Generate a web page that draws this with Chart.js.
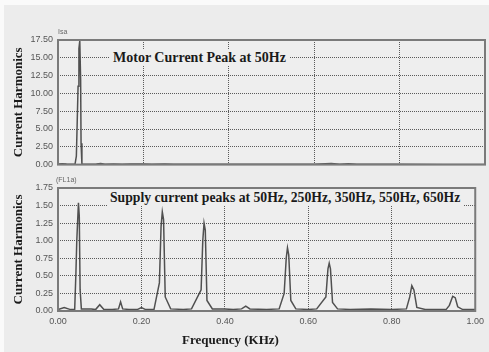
<!DOCTYPE html>
<html><head><meta charset="utf-8">
<script src="https://cdn.jsdelivr.net/npm/chart.js@4.4.0/dist/chart.umd.min.js"></script>
<style>
html,body{margin:0;padding:0;background:#fafafa;}
#wrap{position:relative;width:489px;height:352px;overflow:hidden;}
#panel{position:absolute;left:4px;top:5px;width:485px;height:347px;background:#ececec;}
canvas{position:absolute;left:0;}
.ann{position:absolute;font-family:"Liberation Serif",serif;font-weight:bold;font-size:14px;line-height:16px;color:#1a1a1a;background:#eeeeee;padding:0 3px;white-space:nowrap;}
.unit{position:absolute;font-family:"Liberation Sans",sans-serif;font-size:7px;color:#666;}
.xt{position:absolute;font-family:"Liberation Serif",serif;font-weight:bold;font-size:13px;color:#1a1a1a;white-space:nowrap;}
</style></head>
<body><div id="wrap"><div id="panel"></div>
<canvas id="c1" width="489" height="175" style="top:0"></canvas>
<canvas id="c2" width="489" height="182" style="top:170px"></canvas>
<div class="ann" style="left:110px;top:50px">Motor Current Peak at 50Hz</div>
<div class="ann" style="left:107px;top:190px;font-size:13.7px">Supply current peaks at 50Hz, 250Hz, 350Hz, 550Hz, 650Hz</div>
<div class="unit" style="left:58px;top:28px">Isa</div>
<div class="unit" style="left:56px;top:176px">(FL1a)</div>
<div class="xt" style="left:182px;top:332px">Frequency (KHz)</div>
</div>
<script>
// Frequency axis ticks (KHz)
const xTicks = [0.00, 0.20, 0.40, 0.60, 0.80, 1.00];
const yTicksTop = [0, 2.5, 5, 7.5, 10, 12.5, 15, 17.5];
const yTicksBottom = [0, 0.25, 0.5, 0.75, 1.0, 1.25, 1.5, 1.75];

// Motor current harmonics (Isa)
const motorFreq = [0.00, 0.01, 0.02, 0.03, 0.04, 0.043, 0.045, 0.047, 0.049, 0.051, 0.053, 0.054, 0.056, 0.07, 0.09, 0.10, 0.11, 0.13, 0.15, 0.17, 0.20, 0.22, 0.25, 0.27, 0.30, 0.35, 0.40, 0.45, 0.50, 0.55, 0.60, 0.64, 0.66, 0.68, 0.70, 0.80, 0.90, 1.00];
const motorAmp  = [0.10, 0.12, 0.08, 0.06, 0.10, 1.20, 6.00, 11.00, 16.30, 17.40, 12.00, 3.00, 0.10, 0.05, 0.08, 0.15, 0.05, 0.10, 0.05, 0.10, 0.08, 0.06, 0.10, 0.05, 0.06, 0.05, 0.06, 0.04, 0.05, 0.04, 0.05, 0.15, 0.05, 0.12, 0.04, 0.04, 0.03, 0.03];

// Supply current harmonics (FL1a)
const supplyFreq = [0.00, 0.015, 0.03, 0.04, 0.043, 0.045, 0.049, 0.051, 0.053, 0.056, 0.065, 0.08, 0.09, 0.10, 0.11, 0.13, 0.145, 0.15, 0.155, 0.17, 0.19, 0.20, 0.21, 0.23, 0.243, 0.247, 0.25, 0.253, 0.257, 0.27, 0.30, 0.32, 0.343, 0.347, 0.35, 0.353, 0.357, 0.37, 0.40, 0.42, 0.44, 0.45, 0.46, 0.50, 0.53, 0.542, 0.547, 0.55, 0.553, 0.558, 0.57, 0.60, 0.62, 0.642, 0.647, 0.65, 0.653, 0.658, 0.67, 0.70, 0.75, 0.80, 0.835, 0.843, 0.848, 0.853, 0.86, 0.88, 0.93, 0.938, 0.946, 0.952, 0.958, 0.97, 1.00];
const supplyAmp  = [0.02, 0.05, 0.02, 0.02, 0.55, 1.00, 1.54, 1.35, 0.30, 0.03, 0.03, 0.03, 0.02, 0.09, 0.02, 0.02, 0.03, 0.13, 0.03, 0.02, 0.02, 0.05, 0.02, 0.02, 0.40, 1.20, 1.41, 1.30, 0.20, 0.03, 0.02, 0.03, 0.30, 1.00, 1.25, 1.15, 0.15, 0.03, 0.03, 0.02, 0.03, 0.07, 0.03, 0.02, 0.03, 0.25, 0.75, 0.90, 0.80, 0.15, 0.03, 0.02, 0.03, 0.20, 0.60, 0.68, 0.60, 0.12, 0.03, 0.02, 0.03, 0.02, 0.03, 0.20, 0.36, 0.30, 0.05, 0.02, 0.02, 0.08, 0.21, 0.19, 0.06, 0.02, 0.02];

const plotDeco = {
  id: 'plotDeco',
  beforeDraw(chart) {
    const {ctx, chartArea: a} = chart;
    ctx.save(); ctx.fillStyle = '#eeeeee';
    ctx.fillRect(a.left, a.top, a.right - a.left, a.bottom - a.top);
    ctx.restore();
  },
  afterDraw(chart) {
    const {ctx, chartArea: a} = chart;
    ctx.save(); ctx.strokeStyle = '#7a7a7a'; ctx.lineWidth = 2;
    ctx.strokeRect(a.left, a.top, a.right - a.left, a.bottom - a.top);
    ctx.restore();
  }
};

function makeChart(id, xs, ys, yTicks, yMax, showX, pad, xH) {
  const pts = xs.map((x, i) => ({x, y: ys[i]}));
  return new Chart(document.getElementById(id), {
    type: 'line',
    data: {datasets: [{data: pts, borderColor: '#505050', borderWidth: 1.5, pointRadius: 0, tension: 0, fill: false}]},
    options: {
      responsive: false, animation: false,
      layout: {padding: pad},
      plugins: {legend: {display: false}, tooltip: {enabled: false}},
      scales: {
        x: {
          type: 'linear', min: 0, max: 1,
          afterBuildTicks: s => { s.ticks = xTicks.map(v => ({value: v})); },
          afterFit: s => { s.height = xH; },
          grid: {color: '#5a5a5a', lineWidth: 1, drawTicks: false},
          border: {display: false, dash: [1, 1]},
          ticks: {display: showX, padding: 5, color: '#555', font: {family: 'Liberation Sans', size: 9},
                  callback: v => v.toFixed(2)},
          title: {display: false}
        },
        y: {
          min: 0, max: yMax,
          afterBuildTicks: s => { s.ticks = yTicks.map(v => ({value: v})); },
          afterFit: s => { s.width = 47; },
          grid: {color: '#5a5a5a', lineWidth: 1, drawTicks: false},
          border: {display: false, dash: [1, 1]},
          ticks: {padding: 5, color: '#555', font: {family: 'Liberation Sans', size: 9},
                  callback: v => v.toFixed(2)},
          title: {display: true, text: 'Current Harmonics', color: '#1a1a1a', padding: 0,
                  font: {family: 'Liberation Serif', size: 13, weight: 'bold'}}
        }
      }
    },
    plugins: [plotDeco]
  });
}

makeChart('c1', motorFreq, motorAmp, yTicksTop, 17.5, false, {left: 11, right: 4, top: 40, bottom: 0}, 0);
makeChart('c2', supplyFreq, supplyAmp, yTicksBottom, 1.75, true, {left: 11, right: 4, top: 18, bottom: 2}, 39);
</script>
</body></html>
